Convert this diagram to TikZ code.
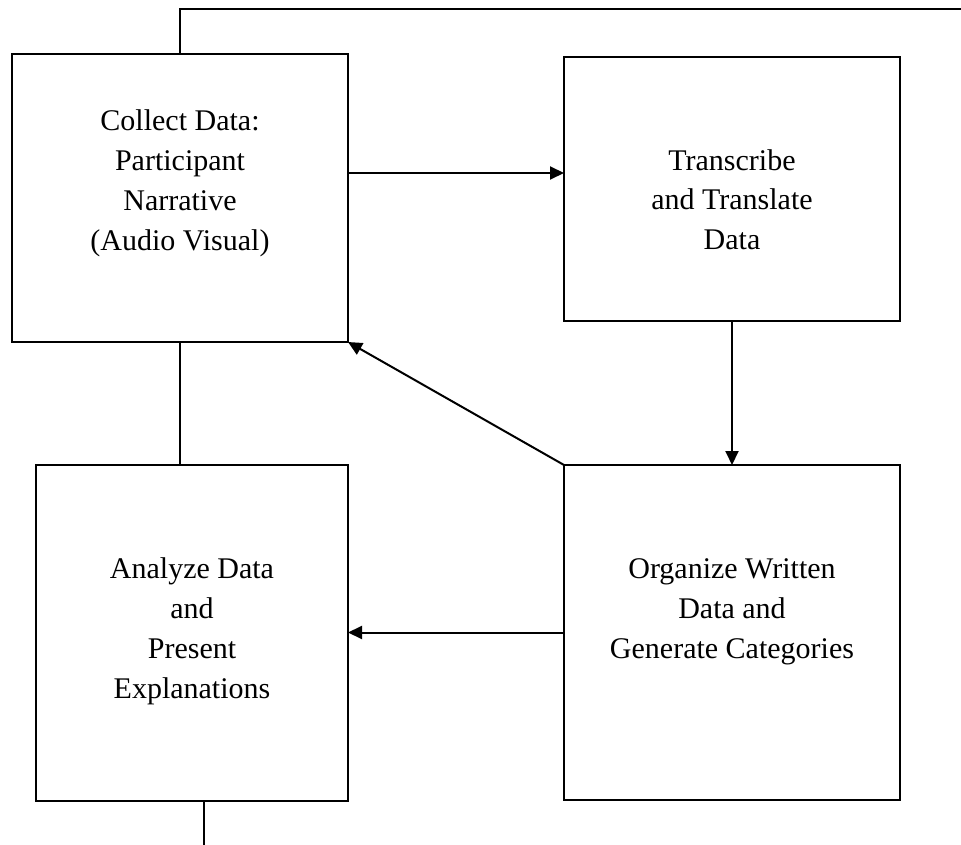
\documentclass[tikz,border=0pt]{standalone}
\usepackage{fontspec}
\setmainfont{Liberation Serif}
\usetikzlibrary{arrows.meta}
\begin{document}
\begin{tikzpicture}[x=1pt,y=-1pt,
  box/.style={draw,line width=2pt,inner sep=0pt,outer sep=0pt},
  lbl/.style={align=center,anchor=base,inner sep=0pt,font=\fontsize{30}{40}\selectfont},
  conn/.style={line width=2pt},
  arr/.style={line width=2pt,-{Triangle[length=14pt,width=13pt]}}]
\useasboundingbox (0,0) rectangle (961,845);
\node[box,minimum width=336pt,minimum height=288pt] (A) at (180,198) {};
\node[box,minimum width=336pt,minimum height=264pt] (B) at (732,189) {};
\node[box,minimum width=312pt,minimum height=336pt] (C) at (192,633) {};
\node[box,minimum width=336pt,minimum height=335pt] (D) at (732,632.5) {};
\node[lbl] (At) at (180,251) {Collect Data:\\Participant\\Narrative\\(Audio Visual)};
\node[lbl] (Bt) at (732,250) {Transcribe\\and Translate\\Data};
\node[lbl] (Ct) at (192,698) {Analyze Data\\and\\Present\\Explanations};
\node[lbl] (Dt) at (732,658) {Organize Written\\Data and\\Generate Categories};
\coordinate (topR) at (961,9);
\coordinate (botE) at (204,845);
\draw[conn] (A.north) -- (A.north |- topR) -- (topR);
\draw[arr] ([yshift=25pt]A.east) -- ([yshift=25pt]A.east -| B.west);
\draw[arr] (B.south) -- (D.north);
\draw[arr] (D.north west) -- (A.south east);
\draw[arr] (D.west) -- (D.west -| C.east);
\draw[conn] (A.south) -- (A.south |- C.north);
\draw[conn] (C.south -| botE) -- (botE);
\end{tikzpicture}
\end{document}
